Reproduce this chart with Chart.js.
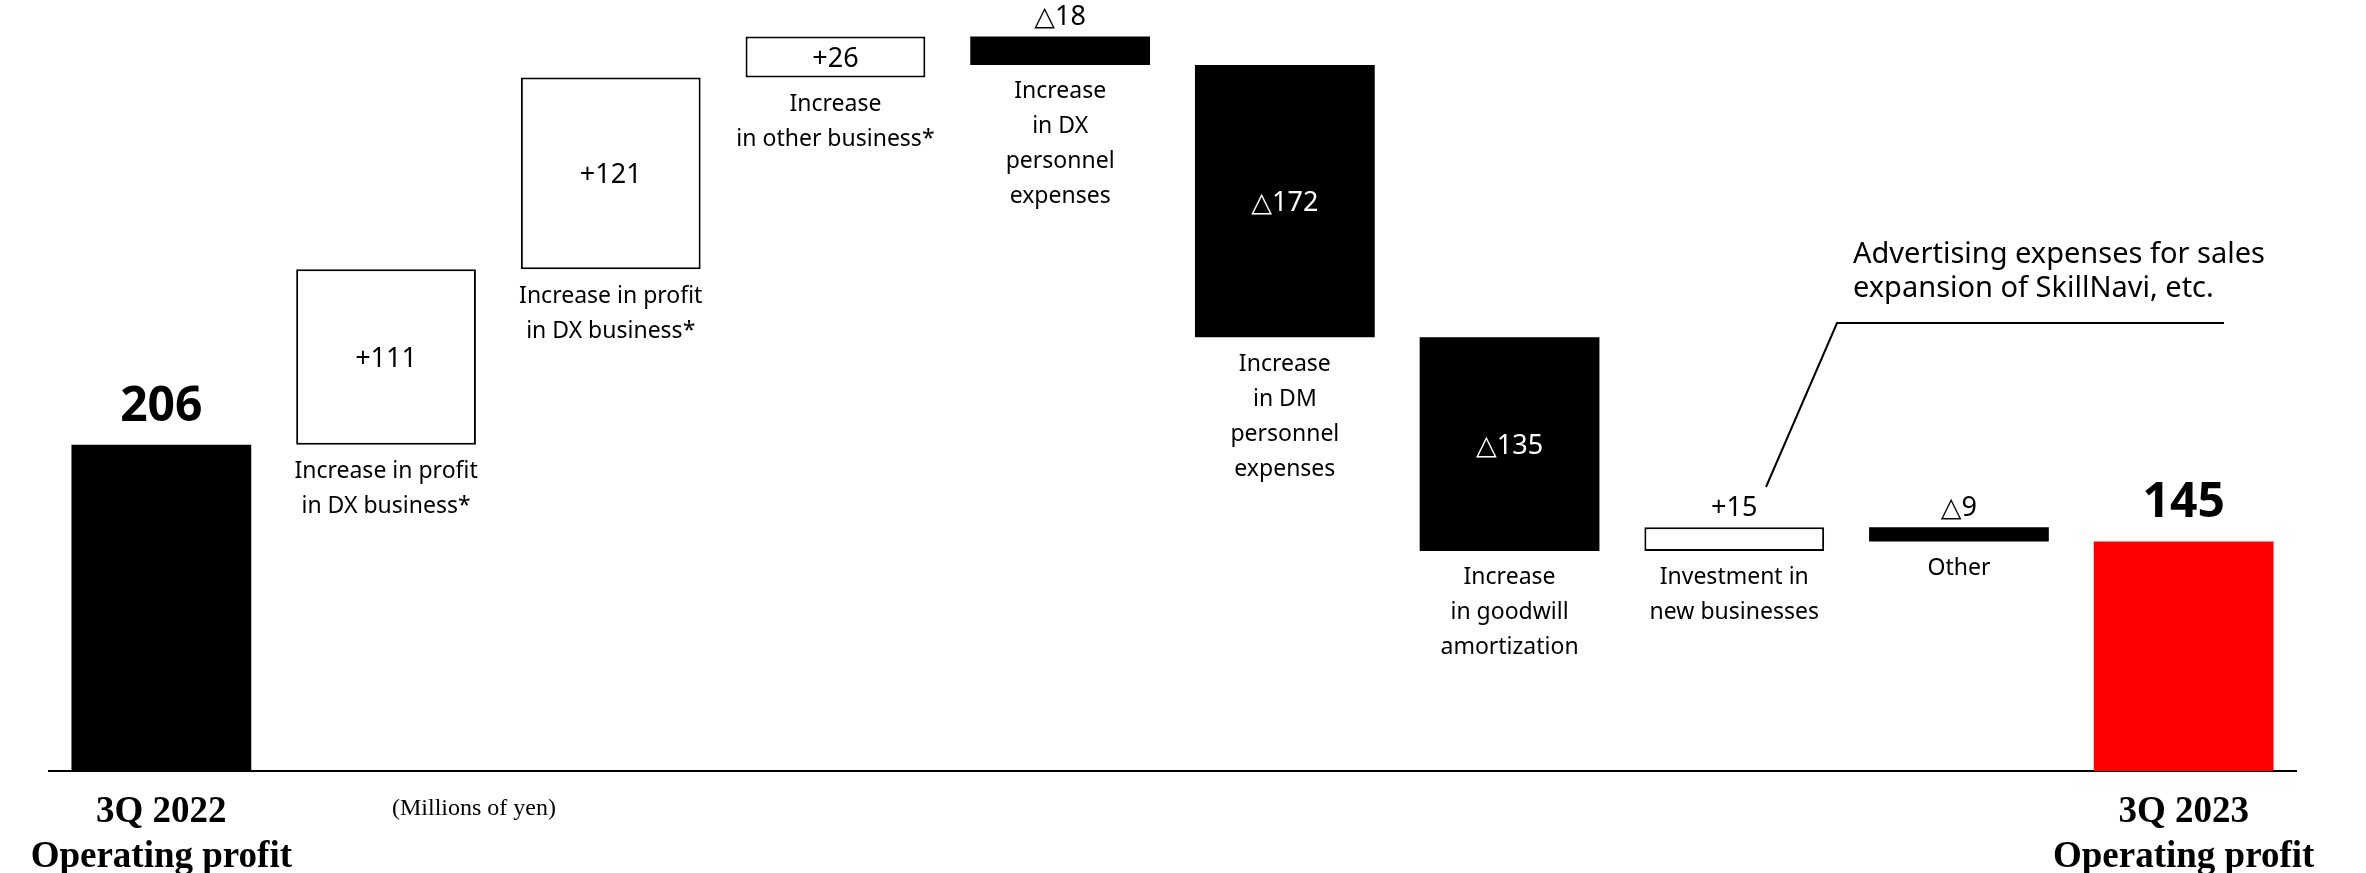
<!DOCTYPE html>
<html>
<head>
<meta charset="utf-8">
<script src="https://cdn.jsdelivr.net/npm/chart.js@4.4.1/dist/chart.umd.min.js"></script>
<style>
    html, body { margin: 0; padding: 0; background: #fff; }
    #wrap { width: 2366px; height: 873px; }
</style>
</head>
<body>
<div id="wrap"><canvas id="bridgeChart" width="2366" height="873"></canvas></div>
<script>
// ── Data ──
const categoryLines = [
    [],
    ["Increase in profit", "in DX business*"],
    ["Increase in profit", "in DX business*"],
    ["Increase", "in other business*"],
    ["Increase", "in DX", "personnel", "expenses"],
    ["Increase", "in DM", "personnel", "expenses"],
    ["Increase", "in goodwill", "amortization"],
    ["Investment in", "new businesses"],
    ["Other"],
    []
];
const axisLabels = [
    ["3Q 2022", "Operating profit"], "", "", "", "", "", "", "", "",
    ["3Q 2023", "Operating profit"]
];
const values = [206, 111, 121, 26, -18, -172, -135, 15, -9, 145];
const valueLabels = ["206", "+111", "+121", "+26", "\u25b318", "\u25b3172", "\u25b3135", "+15", "\u25b39", "145"];
const yMax = 487;

// ── Build floating bars (totals at the ends, steps in between) ──
var ranges = [];
var fills = [];
var borders = [];
var widths = [];
var running = 0;
values.forEach(function (v, i) {
    if (i === 0 || i === values.length - 1) {
        ranges.push([0, v]);
        running = v;
        fills.push(i === 0 ? "#000000" : "#ff0000");
        borders.push("rgba(0,0,0,0)");
        widths.push(0);
    } else {
        ranges.push([running, running + v]);
        running += v;
        fills.push(v > 0 ? "#ffffff" : "#000000");
        borders.push("#000000");
        widths.push(v > 0 ? 2 : 0);
    }
});

const SANS = "'Noto Sans', 'DejaVu Sans', sans-serif";

// ── Labels, note and call-out ──
const annotate = {
    id: "annotate",
    afterDatasetsDraw: function (chart) {
        var ctx = chart.ctx;
        var xs = chart.scales.x;
        var ys = chart.scales.y;
        ctx.save();
        ctx.textAlign = "center";
        ctx.textBaseline = "middle";

        ranges.forEach(function (r, i) {
            var cx = xs.getPixelForValue(i);
            var top = ys.getPixelForValue(Math.max(r[0], r[1]));
            var bot = ys.getPixelForValue(Math.min(r[0], r[1]));
            var last = i === ranges.length - 1;

            if (i === 0 || last) {
                ctx.font = "bold 48px " + SANS;
                ctx.fillStyle = "#000";
                ctx.fillText(valueLabels[i], cx, top - 38);
            } else {
                ctx.font = "27px " + SANS;
                if (bot - top > 35) {
                    ctx.fillStyle = values[i] > 0 ? "#000" : "#fff";
                    ctx.fillText(valueLabels[i], cx, (top + bot) / 2 + 2);
                } else {
                    ctx.fillStyle = "#000";
                    ctx.fillText(valueLabels[i], cx, top - 19);
                }
            }

            ctx.fillStyle = "#000";
            ctx.font = "23px " + SANS;
            categoryLines[i].forEach(function (line, k) {
                ctx.fillText(line, cx, bot + 27 + k * 35);
            });
        });

        // unit note
        ctx.textAlign = "left";
        ctx.font = "24px 'Liberation Serif', serif";
        ctx.fillText("(Millions of yen)", 392, 809);

        // call-out for new businesses
        ctx.strokeStyle = "#000";
        ctx.lineWidth = 2;
        ctx.beginPath();
        ctx.moveTo(1766, 487);
        ctx.lineTo(1837, 323);
        ctx.lineTo(2224, 323);
        ctx.stroke();
        ctx.font = "29px " + SANS;
        ctx.fillText("Advertising expenses for sales", 1853, 255);
        ctx.fillText("expansion of SkillNavi, etc.", 1853, 289);
        ctx.restore();
    }
};

new Chart(document.getElementById("bridgeChart"), {
    type: "bar",
    data: {
        labels: axisLabels,
        datasets: [{
            data: ranges,
            backgroundColor: fills,
            borderColor: borders,
            borderWidth: widths,
            borderSkipped: false,
            barPercentage: 0.8,
            categoryPercentage: 1.0
        }]
    },
    options: {
        responsive: false,
        animation: false,
        layout: { padding: { left: 49, right: 70, top: 0, bottom: 0 } },
        scales: {
            x: {
                grid: { display: false, drawTicks: false },
                border: { display: true, color: "#000", width: 2 },
                afterFit: function (scale) { scale.height = 102; },
                ticks: {
                    autoSkip: false,
                    maxRotation: 0,
                    padding: 19,
                    color: "#000",
                    font: { family: "'Liberation Serif', serif", size: 37, weight: "bold", lineHeight: 1.22 }
                }
            },
            y: { display: false, min: 0, max: yMax }
        },
        plugins: {
            legend: { display: false },
            tooltip: { enabled: false }
        }
    },
    plugins: [annotate]
});
</script>
</body>
</html>
